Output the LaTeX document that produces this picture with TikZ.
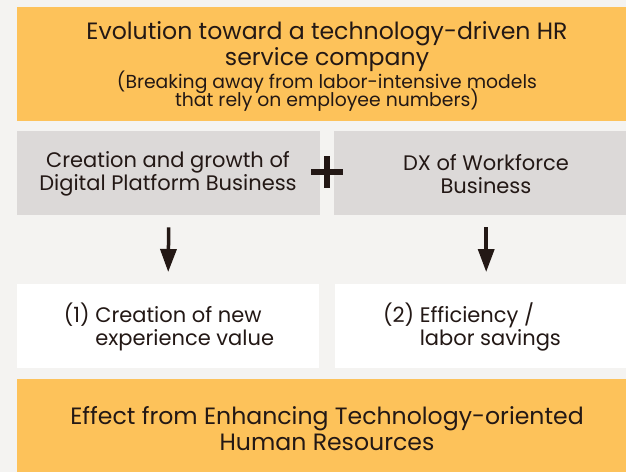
\documentclass[tikz,border=0pt]{standalone}
\usepackage{fontspec}
\setmainfont{Poppins}
\usetikzlibrary{arrows.meta}
\definecolor{bg}{HTML}{F4F3F1}
\definecolor{orng}{HTML}{FDC25A}
\definecolor{gry}{HTML}{DCD9D8}
\definecolor{ink}{HTML}{231815}
\newcommand\tightls{\lineskiplimit=-20pt\relax}
\begin{document}
\begin{tikzpicture}[x=1pt,y=-1pt,
  box/.style={draw=none,inner sep=0pt,anchor=north west},
  txt/.style={text=ink,align=center,inner sep=0pt},
  arr/.style={draw=ink,line width=3.5pt,-{Triangle[length=23pt,width=16pt]}}]
\fill[bg] (0,0) rectangle (626,472);
\useasboundingbox (0,0) rectangle (626,472);
% boxes
\node[box,fill=orng,minimum width=609pt,minimum height=114pt] (top) at (17,7) {};
\node[box,fill=gry,minimum width=303pt,minimum height=84pt] (gl) at (17,131) {};
\node[box,fill=gry,minimum width=292pt,minimum height=84pt] (gr) at (334,131) {};
\node[box,fill=white,minimum width=302pt,minimum height=84pt] (wl) at (17,284) {};
\node[box,fill=white,minimum width=291pt,minimum height=84pt] (wr) at (335,284) {};
\node[box,fill=orng,minimum width=609pt,minimum height=93pt] (bot) at (17,379) {};
% texts
\node[txt,font=\fontsize{23.6}{25.5}\selectfont\tightls] (t1) at (327,46.5) {Evolution toward a technology-driven HR\\service company};
\node[txt,font=\fontsize{18.8}{17.5}\selectfont\tightls] (t2) at (327,91) {(Breaking away from labor-intensive models\\that rely on employee numbers)};
\node[txt,font=\fontsize{21}{23}\selectfont\tightls] (gltxt) at (168,174) {Creation and growth of\\Digital Platform Business};
\node[txt,font=\fontsize{21}{23}\selectfont\tightls] (grtxt) at (486,174) {DX of Workforce\\Business};
\node[txt,align=left,font=\fontsize{21}{23}\selectfont\tightls] (wltxt) at (169,327) {(1) Creation of new\\\hphantom{(1) }experience value};
\node[txt,align=left,font=\fontsize{21}{23}\selectfont\tightls] (wrtxt) at (472,327) {(2) Efficiency /\\\hphantom{(2) }labor savings};
\node[txt,font=\fontsize{23.6}{26}\selectfont\tightls] (bottxt) at (327,429) {Effect from Enhancing Technology-oriented\\Human Resources};
% plus
\node[inner sep=0pt,minimum size=31pt] (plus) at (327,172) {};
\draw[ink,line width=6pt] (plus.west) -- (plus.east) (plus.north) -- (plus.south);
% arrows
\draw[arr] ([yshift=-12pt]gl.south) -- ([yshift=12pt]wl.north);
\draw[arr] ([xshift=6pt,yshift=-12pt]gr.south) -- ([xshift=5.5pt,yshift=12pt]wr.north);
\end{tikzpicture}
\end{document}
